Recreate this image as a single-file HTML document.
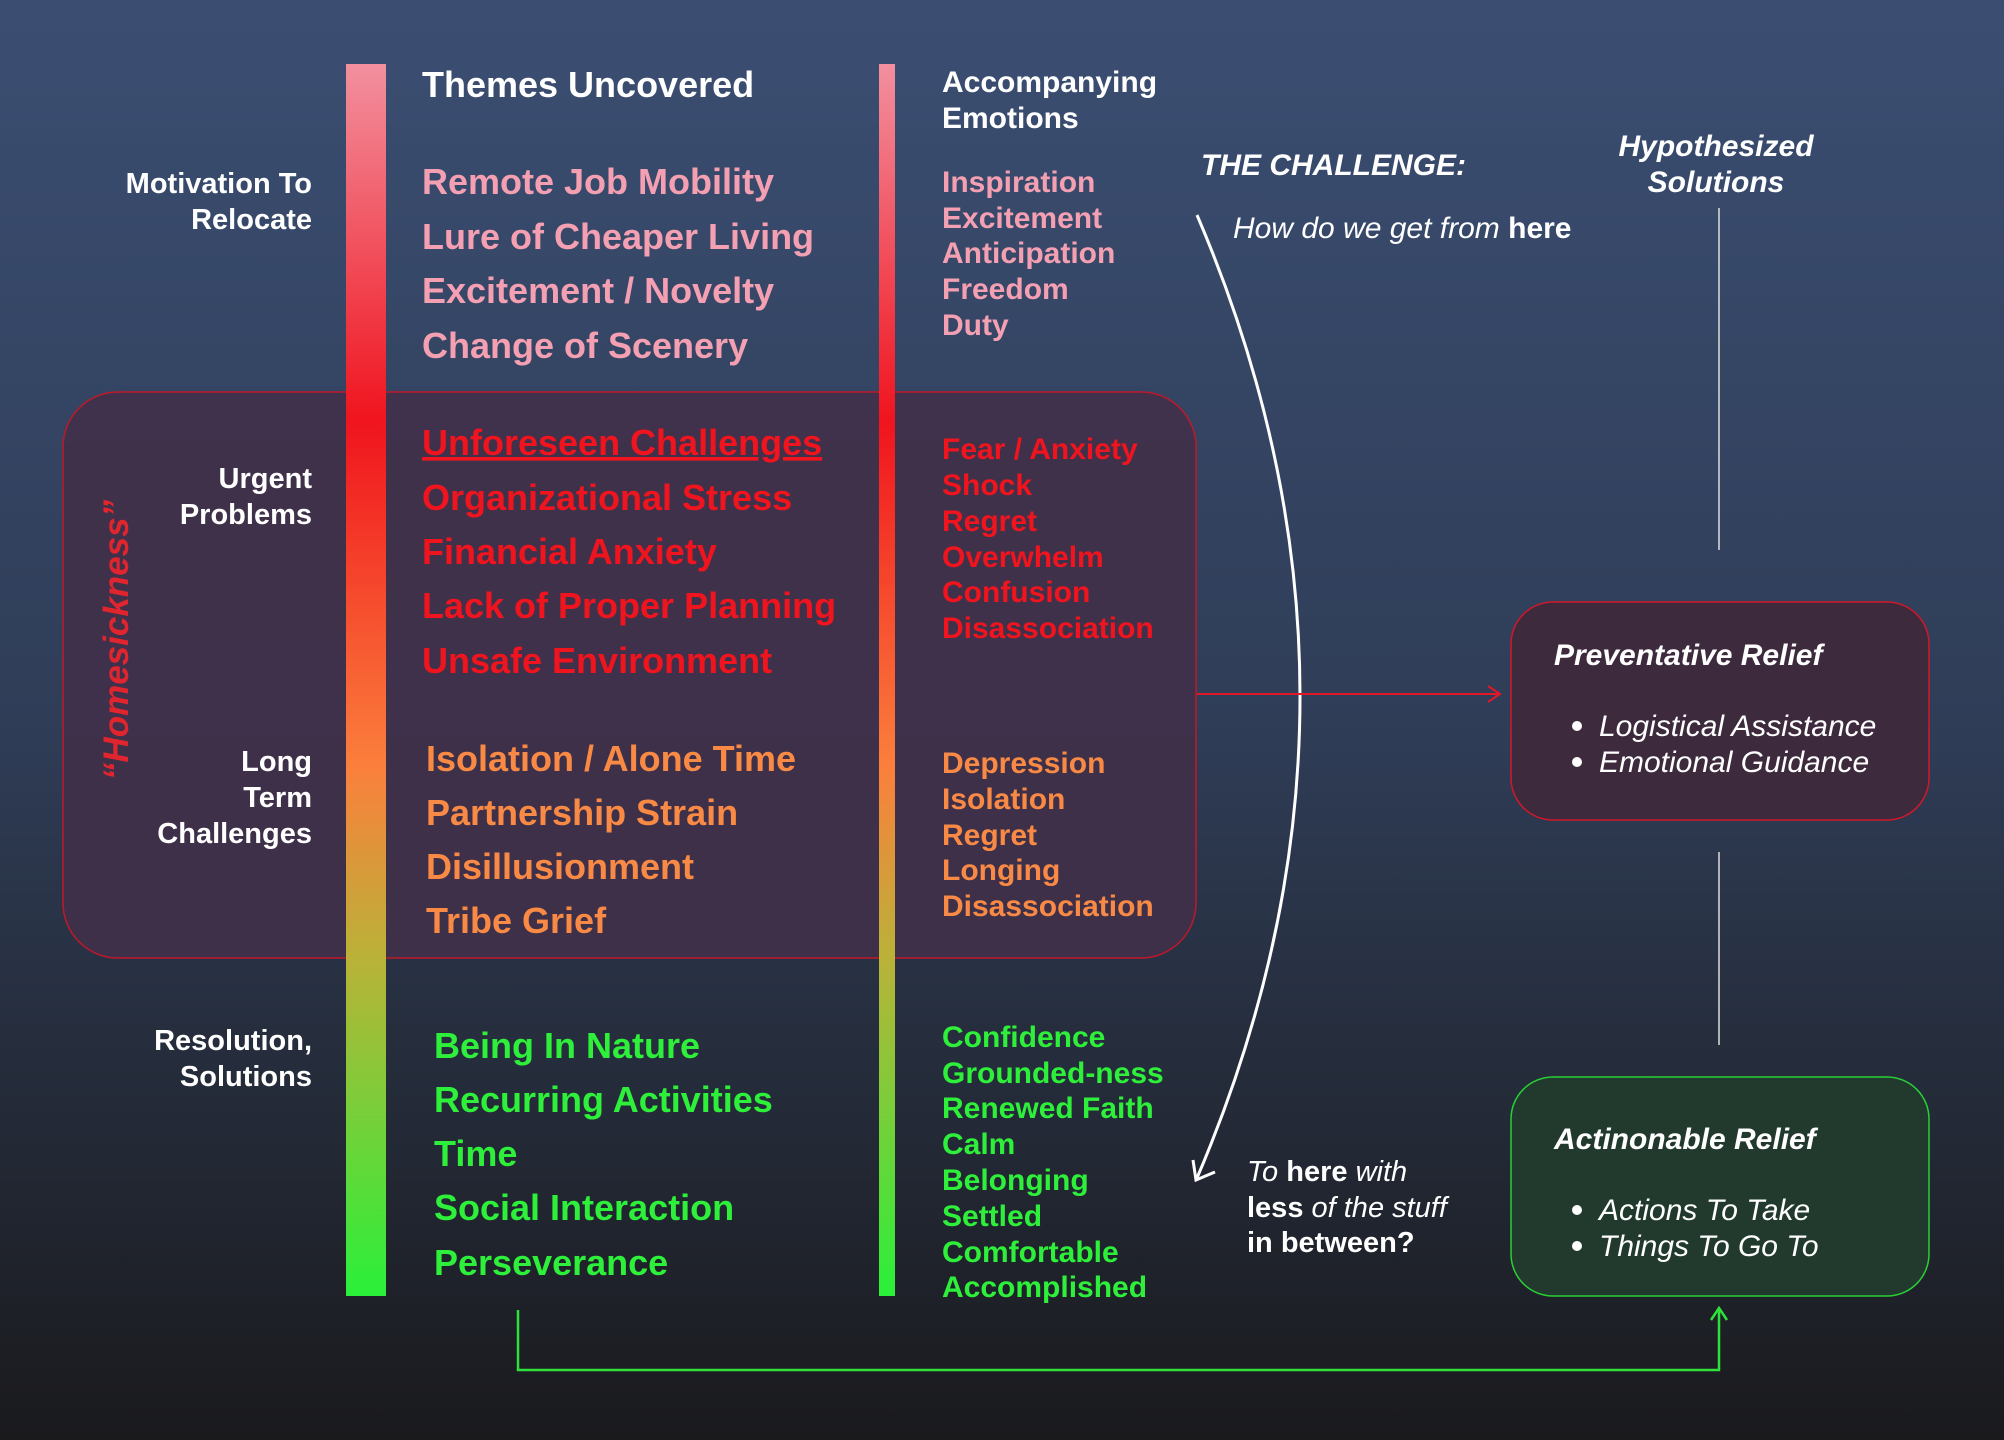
<!DOCTYPE html>
<html><head><meta charset="utf-8"><style>
html,body{margin:0;padding:0;width:2004px;height:1440px;overflow:hidden}
svg{display:block}
text{font-family:"Liberation Sans",sans-serif}
.t{font-size:36px;font-weight:bold}
.e{font-size:30px;font-weight:bold}
.l{font-size:29px;font-weight:bold;fill:#fff;text-anchor:end}
.w{fill:#fff}
</style></head><body>
<svg width="2004" height="1440" viewBox="0 0 2004 1440" xmlns="http://www.w3.org/2000/svg">
<defs>
<linearGradient id="bg" x1="0" y1="0" x2="0" y2="1">
<stop offset="0" stop-color="#3b4e72"/><stop offset="0.5" stop-color="#2f3d57"/><stop offset="1" stop-color="#1a1a1d"/>
</linearGradient>
<linearGradient id="bar" x1="0" y1="0" x2="0" y2="1">
<stop offset="0" stop-color="#f2909f"/><stop offset="0.29" stop-color="#f0141e"/><stop offset="0.57" stop-color="#fb7f3c"/><stop offset="0.73" stop-color="#b8b338"/><stop offset="1" stop-color="#2af03a"/>
</linearGradient>
</defs>
<rect width="2004" height="1440" fill="url(#bg)"/>
<rect x="63" y="392" width="1133" height="566" rx="55" fill="#41304a" fill-opacity="0.92" stroke="#c0182a" stroke-width="1.5"/>
<rect x="346" y="64" width="40" height="1232" fill="url(#bar)"/>
<rect x="879" y="64" width="16" height="1232" fill="url(#bar)"/>

<text class="t w" x="422" y="97">Themes Uncovered</text>
<g class="t" fill="#f4a0b2">
<text x="422" y="194">Remote Job Mobility</text><text x="422" y="249">Lure of Cheaper Living</text><text x="422" y="303">Excitement / Novelty</text><text x="422" y="358">Change of Scenery</text></g>
<g class="t" fill="#f0141e">
<text x="422" y="455" text-decoration="underline">Unforeseen Challenges</text><text x="422" y="510">Organizational Stress</text><text x="422" y="564">Financial Anxiety</text><text x="422" y="618">Lack of Proper Planning</text><text x="422" y="673">Unsafe Environment</text></g>
<g class="t" fill="#f98a45">
<text x="426" y="771">Isolation / Alone Time</text><text x="426" y="825">Partnership Strain</text><text x="426" y="879">Disillusionment</text><text x="426" y="933">Tribe Grief</text></g>
<g class="t" fill="#2ef03a">
<text x="434" y="1058">Being In Nature</text><text x="434" y="1112">Recurring Activities</text><text x="434" y="1166">Time</text><text x="434" y="1220">Social Interaction</text><text x="434" y="1275">Perseverance</text></g>

<g class="e w"><text x="942" y="92">Accompanying</text><text x="942" y="128">Emotions</text></g>
<g class="e" fill="#f4a0b2"><text x="942" y="192">Inspiration</text><text x="942" y="228">Excitement</text><text x="942" y="263">Anticipation</text><text x="942" y="299">Freedom</text><text x="942" y="335">Duty</text></g>
<g class="e" fill="#f0141e"><text x="942" y="459">Fear / Anxiety</text><text x="942" y="495">Shock</text><text x="942" y="531">Regret</text><text x="942" y="567">Overwhelm</text><text x="942" y="602">Confusion</text><text x="942" y="638">Disassociation</text></g>
<g class="e" fill="#f98a45"><text x="942" y="773">Depression</text><text x="942" y="809">Isolation</text><text x="942" y="845">Regret</text><text x="942" y="880">Longing</text><text x="942" y="916">Disassociation</text></g>
<g class="e" fill="#2ef03a"><text x="942" y="1047">Confidence</text><text x="942" y="1083">Grounded-ness</text><text x="942" y="1118">Renewed Faith</text><text x="942" y="1154">Calm</text><text x="942" y="1190">Belonging</text><text x="942" y="1226">Settled</text><text x="942" y="1262">Comfortable</text><text x="942" y="1297">Accomplished</text></g>

<g class="l"><text x="312" y="193">Motivation To</text><text x="312" y="229">Relocate</text>
<text x="312" y="488">Urgent</text><text x="312" y="524">Problems</text>
<text x="312" y="771">Long</text><text x="312" y="807">Term</text><text x="312" y="843">Challenges</text>
<text x="312" y="1050">Resolution,</text><text x="312" y="1086">Solutions</text></g>
<text transform="translate(128,640) rotate(-90)" text-anchor="middle" font-size="35" font-weight="bold" font-style="italic" fill="#e0252e">“Homesickness”</text>

<text x="1201" y="175" font-size="30" font-weight="bold" font-style="italic" class="w">THE CHALLENGE:</text>
<text x="1233" y="238" font-size="30" font-style="italic" class="w">How do we get from <tspan font-weight="bold" font-style="normal">here</tspan></text>
<g font-size="30" font-weight="bold" font-style="italic" class="w" text-anchor="middle"><text x="1716" y="156">Hypothesized</text><text x="1716" y="192">Solutions</text></g>
<g font-size="29" font-style="italic" class="w"><text x="1247" y="1181">To <tspan font-weight="bold" font-style="normal">here</tspan> with</text><text x="1247" y="1217"><tspan font-weight="bold" font-style="normal">less</tspan> of the stuff</text><text x="1247" y="1252" font-weight="bold" font-style="normal">in between?</text></g>

<path d="M1197 215 Q1403 696 1197 1178" fill="none" stroke="#fff" stroke-width="3"/>
<path d="M1193 1160 L1196 1180 L1215 1172" fill="none" stroke="#fff" stroke-width="3"/>

<line x1="1719" y1="208" x2="1719" y2="550" stroke="#ddd" stroke-width="1.5"/>
<line x1="1719" y1="852" x2="1719" y2="1045" stroke="#ddd" stroke-width="1.5"/>

<line x1="1197" y1="694" x2="1500" y2="694" stroke="#e0182a" stroke-width="2"/>
<path d="M1488 686 L1500 694 L1488 702" fill="none" stroke="#e0182a" stroke-width="2"/>

<rect x="1511" y="602" width="418" height="218" rx="42" fill="#3d2b3d" stroke="#d0182a" stroke-width="1.5"/>
<text x="1554" y="665" font-size="30" font-weight="bold" font-style="italic" class="w">Preventative Relief</text>
<g font-size="30" font-style="italic" class="w"><circle cx="1577" cy="726" r="5" fill="#fff"/><text x="1599" y="736">Logistical Assistance</text><circle cx="1577" cy="762" r="5" fill="#fff"/><text x="1599" y="772">Emotional Guidance</text></g>

<rect x="1511" y="1077" width="418" height="219" rx="42" fill="#223a2e" stroke="#28d035" stroke-width="1.5"/>
<text x="1554" y="1149" font-size="30" font-weight="bold" font-style="italic" class="w">Actinonable Relief</text>
<g font-size="30" font-style="italic" class="w"><circle cx="1577" cy="1210" r="5" fill="#fff"/><text x="1599" y="1220">Actions To Take</text><circle cx="1577" cy="1246" r="5" fill="#fff"/><text x="1599" y="1256">Things To Go To</text></g>

<path d="M518 1310 L518 1370 L1719 1370 L1719 1310" fill="none" stroke="#2ee03a" stroke-width="2.5"/>
<path d="M1711 1320 L1719 1308 L1727 1320" fill="none" stroke="#2ee03a" stroke-width="2.5"/>
</svg>
</body></html>
